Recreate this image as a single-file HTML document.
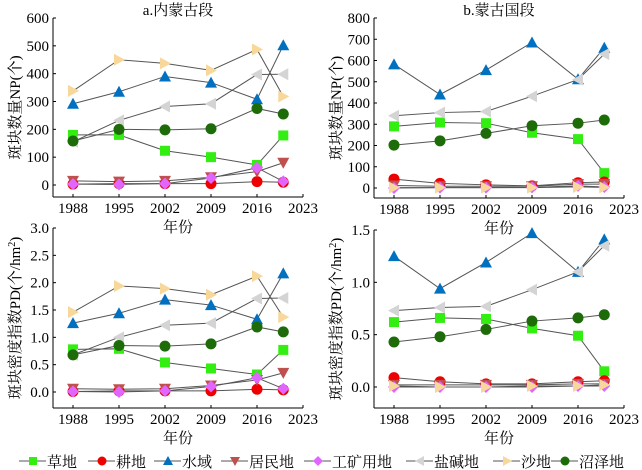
<!DOCTYPE html>
<html><head><meta charset="utf-8"><style>
body{margin:0;background:#fff}
svg{display:block;font-family:"Liberation Serif","Noto Serif CJK SC",serif}
</style></head><body>
<svg id="c" width="642" height="470"></svg>
<script>
const years=[1988,1995,2002,2009,2016,2020];
const names=['草地','耕地','水域','居民地','工矿用地','盐碱地','沙地','沼泽地'];
const colors=['#33ee11','#ee0000','#0070c0','#c0504d','#e066ff','#d4d4d4','#f8d79a','#1e6b0a'];
const markers=['square','circle','up','down','diamond','left','right','circle'];
const npA=[[180,180,123,100,72,178],[3,5,5,5,12,10],[292,335,390,368,308,502],[15,12,15,28,48,80],[3,2,5,25,62,13],[155,232,282,292,397,398],[338,450,437,412,487,318],[158,200,198,202,275,255]];
const npB=[[290,308,305,260,230,70],[42,22,15,10,25,28],[582,440,555,685,512,660],[12,8,8,8,18,18],[0,2,2,3,10,5],[340,355,360,432,510,630],[2,2,2,2,5,3],[202,222,257,293,305,320]];
const pdA=[[.78,.79,.54,.43,.32,.77],[.01,.02,.02,.02,.05,.04],[1.26,1.44,1.69,1.59,1.33,2.17],[.06,.05,.06,.12,.22,.35],[.01,0,.02,.1,.26,.06],[.68,1.0,1.22,1.26,1.71,1.72],[1.46,1.94,1.89,1.78,2.12,1.37],[.68,.85,.84,.88,1.19,1.10]];
const pdB=[[.62,.66,.65,.56,.49,.15],[.09,.05,.03,.03,.05,.06],[1.25,.94,1.19,1.47,1.10,1.41],[.02,.02,.02,.02,.03,.03],[0,0,0,0,.01,.01],[.73,.76,.77,.93,1.10,1.35],[.01,0,0,.01,.01,.02],[.43,.48,.55,.63,.66,.69]];
const xTicks=[1988,1995,2002,2009,2016,2023];
const yTicksNP_A=[0,100,200,300,400,500,600];
const yTicksNP_B=[0,100,200,300,400,500,600,700,800];
const yTicksPD_A=['0.0','0.5','1.0','1.5','2.0','2.5','3.0'];
const yTicksPD_B=['0.0','0.5','1.0','1.5'];
const svg=document.getElementById('c');
const NS='http://www.w3.org/2000/svg';
function mk(t,a,p){const e=document.createElementNS(NS,t);for(const k in a)e.setAttribute(k,a[k]);(p||svg).appendChild(e);return e;}
function marker(g,type,x,y,c,s){s=s||5;let e;
 if(type==='square')e=mk('rect',{x:x-s,y:y-s,width:2*s,height:2*s,fill:c},g);
 else if(type==='circle')e=mk('circle',{cx:x,cy:y,r:s+0.5,fill:c},g);
 else{let p;
  if(type==='up')p=[[x,y-s-1],[x-s-1,y+s],[x+s+1,y+s]];
  if(type==='down')p=[[x,y+s+1],[x-s-1,y-s],[x+s+1,y-s]];
  if(type==='left')p=[[x-s-1,y],[x+s,y-s-1],[x+s,y+s+1]];
  if(type==='right')p=[[x+s+1,y],[x-s,y-s-1],[x-s,y+s+1]];
  if(type==='diamond')p=[[x,y-s-1],[x+s+1,y],[x,y+s+1],[x-s-1,y]];
  e=mk('polygon',{points:p.map(q=>q.join(',')).join(' '),fill:c},g);}
 
 }
function panel(id,ox,title,data,ticks,ymax,y0,ytop,ybot,ylabel,sup){
 const g=mk('g',{});
 
 
 const x0=ox+53,x1=ox+303;
 const sx=v=>ox+73+(v-1988)*(230/35);
 const sy=v=>y0-(v/ymax)*(y0-ytop);
 mk('line',{x1:x0,y1:ytop,x2:x0,y2:ybot,stroke:'#000','stroke-width':1},g);
 mk('line',{x1:x0,y1:ybot,x2:x1,y2:ybot,stroke:'#000','stroke-width':1},g);
 ticks.forEach(t=>{const v=parseFloat(t),y=sy(v);
  mk('line',{x1:x0,y1:y,x2:x0+3,y2:y,stroke:'#000'},g);
  const tx=mk('text',{x:x0-4,y:y+5,'text-anchor':'end','font-size':15},g);tx.textContent=t;});
 xTicks.forEach(t=>{const x=sx(t);
  mk('line',{x1:x,y1:ybot,x2:x,y2:ybot-3,stroke:'#000'},g);
  const tx=mk('text',{x:x,y:ybot+16,'text-anchor':'middle','font-size':15},g);tx.textContent=t;});
 const xl=mk('text',{x:ox+178,y:ybot+35,'text-anchor':'middle','font-size':15},g);xl.textContent='年份';
 if(title){const tt=mk('text',{x:ox+178,y:15,'text-anchor':'middle','font-size':15},g);tt.textContent=title;}
 const cy=(ytop+ybot)/2;
 const yl=mk('text',{x:ox+20,y:cy,'text-anchor':'middle','font-size':15,transform:`rotate(-90 ${ox+20} ${cy})`},g);
 yl.textContent=ylabel;
 if(sup){const ts=mk('tspan',{'baseline-shift':'super','font-size':10},yl);ts.textContent='2';const t2=mk('tspan',{},yl);t2.textContent=')';}
 data.forEach((s,i)=>{
  const pl=mk('polyline',{points:s.map((v,j)=>sx(years[j])+','+sy(v)).join(' '),fill:'none',stroke:'#555','stroke-width':1},g);
  
  
 });
 data.forEach((s,i)=>s.forEach((v,j)=>marker(g,markers[i],sx(years[j]),sy(v),colors[i])));
}
panel('panel-a-np',0,'a.内蒙古段',npA,yTicksNP_A,600,185,18,197,'斑块数量NP(个)');
panel('panel-b-np',321,'b.蒙古国段',npB,yTicksNP_B,800,188,18,198,'斑块数量NP(个)');
panel('panel-a-pd',0,null,pdA,yTicksPD_A,3,392,228,408,'斑块密度指数PD(个/hm',true);
panel('panel-b-pd',321,null,pdB,yTicksPD_B,1.5,387,230,408,'斑块密度指数PD(个/hm',true);
const legX=[33,102,168,235,318,420,507,565];
const lg=mk('g',{});


names.forEach((n,i)=>{const x=legX[i],y=461;
 const e=mk('g',{},lg);
 
 
 mk('line',{x1:x-14,y1:y,x2:x+13,y2:y,stroke:'#555'},e);
 marker(e,markers[i],x,y,colors[i],4);
 const t=mk('text',{x:x+14,y:y+6,'font-size':15},e);t.textContent=n;});
</script>
</body></html>
